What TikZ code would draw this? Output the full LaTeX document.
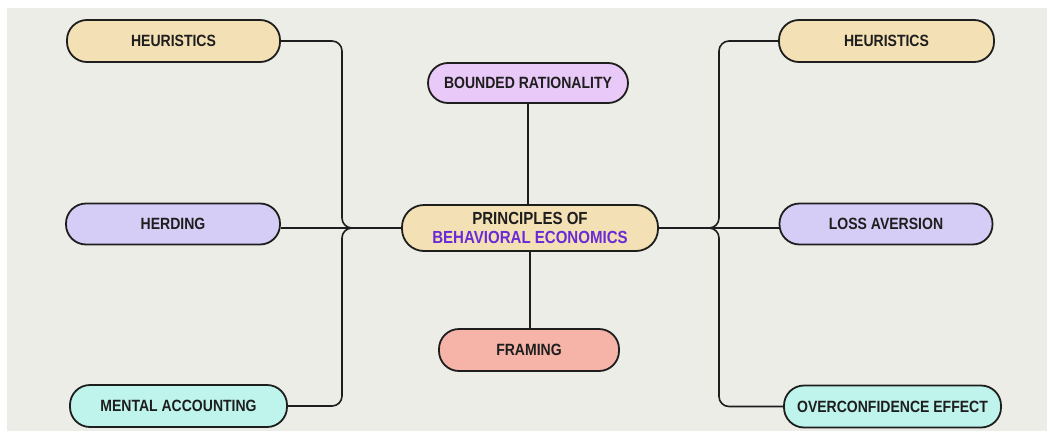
\documentclass[tikz,border=0pt]{standalone}
\usepackage{fontspec}
\setmainfont{Liberation Sans}[FakeStretch=0.86]
\definecolor{bgc}{HTML}{EDEDE8}
\definecolor{heurc}{HTML}{F3E0B5}
\definecolor{boundc}{HTML}{E9C9F7}
\definecolor{herdc}{HTML}{D6CDF6}
\definecolor{framc}{HTML}{F6B4A8}
\definecolor{mentc}{HTML}{BEF4EC}
\definecolor{purp}{HTML}{6A2BD6}
\definecolor{inkc}{HTML}{1E1E1E}
\tikzset{
  pill/.style={draw=inkc, line width=1.8pt, rounded corners=20pt, inner sep=0pt,
    minimum height=42pt, align=center, text=inkc,
    font=\fontsize{16.3}{20}\selectfont\bfseries},
  link/.style={draw=inkc, line width=1.6pt, rounded corners=10pt}
}
\begin{document}
\begin{tikzpicture}[x=1pt,y=-1pt]
\useasboundingbox (0,0) rectangle (1047,434);
\fill[bgc] (7,8) rectangle (1047,431);
\node[pill, fill=heurc, minimum width=213pt] (lh) at (173.5,41) {HEURISTICS};
\node[pill, fill=herdc, minimum width=214pt, minimum height=41pt] (herd) at (173,224) {HERDING};
\node[pill, fill=mentc, minimum width=217pt] (ment) at (178.5,406) {MENTAL ACCOUNTING};
\node[pill, fill=boundc, minimum width=200pt, minimum height=40pt] (bnd) at (528,83) {BOUNDED RATIONALITY};
\node[pill, fill=heurc, minimum width=256pt, minimum height=46pt, rounded corners=22pt,
  font=\fontsize{17.5}{20}\selectfont\bfseries] (ctr) at (530,228)
  {PRINCIPLES OF\\[-1pt]\textcolor{purp}{BEHAVIORAL ECONOMICS}};
\node[pill, fill=framc, minimum width=180pt] (fram) at (529,350) {FRAMING};
\node[pill, fill=heurc, minimum width=215pt] (rh) at (886.5,41) {HEURISTICS};
\node[pill, fill=herdc, minimum width=213pt, minimum height=41pt] (loss) at (886,224) {LOSS AVERSION};
\node[pill, fill=mentc, minimum width=217pt] (over) at (892.5,406.5) {OVERCONFIDENCE EFFECT};
\coordinate (lt) at (342,228);
\coordinate (rt) at (719,228);
\draw[link] (lh.east) -- (lh.east -| lt) -- (lt |- ctr.west) -- (ctr.west);
\draw[link] (ment.east) -- (ment.east -| lt) -- (lt |- ctr.west) -- (ctr.west);
\draw[link] (herd.east |- ctr.west) -- (ctr.west);
\draw[link] (rh.west) -- (rh.west -| rt) -- (rt |- ctr.east) -- (ctr.east);
\draw[link] (over.west) -- (over.west -| rt) -- (rt |- ctr.east) -- (ctr.east);
\draw[link] (loss.west |- ctr.east) -- (ctr.east);
\draw[link] (bnd.south) -- (bnd.south |- ctr.north);
\draw[link] (ctr.south) -- (ctr.south |- fram.north);
\end{tikzpicture}
\end{document}
